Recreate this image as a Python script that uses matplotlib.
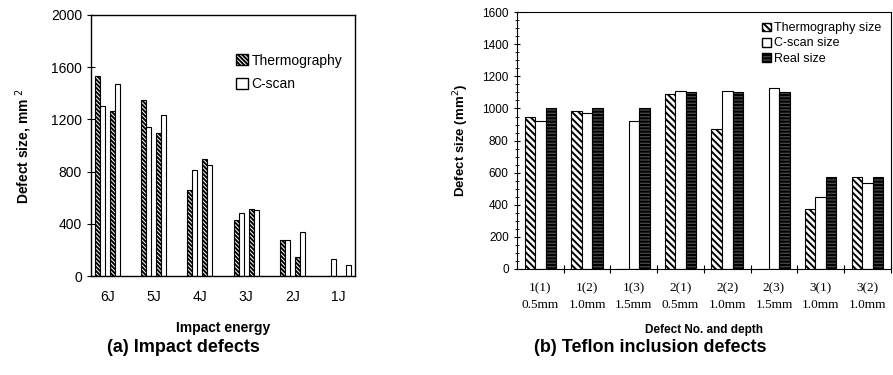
import numpy as np
import matplotlib.pyplot as plt
from matplotlib.patches import Patch
from matplotlib.ticker import MultipleLocator

plt.rcParams['font.family'] = ['Liberation Sans', 'DejaVu Sans']
plt.rcParams['hatch.linewidth'] = 1.4

# (a) impact defects, two specimens per energy level
energies = ['6J', '5J', '4J', '3J', '2J', '1J']
thermo_1 = [1535, 1350, 660, 430, 275, 0]
cscan_1 = [1305, 1145, 810, 480, 275, 133]
thermo_2 = [1265, 1095, 895, 512, 143, 0]
cscan_2 = [1470, 1230, 852, 505, 335, 87]

# (b) teflon inclusion defects
defects = ['1(1)\n0.5mm', '1(2)\n1.0mm', '1(3)\n1.5mm', '2(1)\n0.5mm',
           '2(2)\n1.0mm', '2(3)\n1.5mm', '3(1)\n1.0mm', '3(2)\n1.0mm']
thermo_size = [950, 985, 0, 1090, 870, 0, 375, 575]
cscan_size = [920, 970, 920, 1110, 1110, 1130, 445, 535]
real_size = [1000, 1000, 1000, 1100, 1100, 1100, 570, 570]

dense = '\\' * 8

fig = plt.figure(figsize=(8.93, 3.75), dpi=100)

# ---- left panel
ax = fig.add_axes([0.102, 0.264, 0.2955, 0.696])
x = np.arange(len(energies))
w = 0.108
ax.bar(x - 2 * w, thermo_1, w, facecolor='white', edgecolor='black', hatch=dense, lw=0.8)
ax.bar(x - w, cscan_1, w, facecolor='white', edgecolor='black', lw=0.8)
ax.bar(x + w, thermo_2, w, facecolor='white', edgecolor='black', hatch=dense, lw=0.8)
ax.bar(x + 2 * w, cscan_2, w, facecolor='white', edgecolor='black', lw=0.8)
ax.set_xlim(-0.357, 5.357)
ax.set_ylim(0, 2000)
ax.set_yticks(np.arange(0, 2001, 400))
ax.set_xticks(x)
ax.set_xticklabels(energies, fontsize=10)
ax.tick_params(axis='x', length=0, pad=10)
ax.tick_params(axis='y', labelsize=10, direction='inout', length=6)
ax.set_xlabel('Impact energy', fontsize=10, fontweight='bold', labelpad=12)
ax.set_ylabel('Defect size, mm $^2$', fontsize=10, fontweight='bold', labelpad=12)
for s in ax.spines.values():
    s.set_linewidth(1.0)
handles = [Patch(facecolor='white', edgecolor='black', hatch=dense),
           Patch(facecolor='white', edgecolor='black')]
ax.legend(handles, ['Thermography', 'C-scan'], loc='upper right', bbox_to_anchor=(1.0, 0.9),
          frameon=False, fontsize=10, handlelength=0.8, handleheight=0.8, handletextpad=0.3,
          labelspacing=0.7)
fig.text(0.205, 0.06, '(a) Impact defects', fontsize=13, fontweight='bold', ha='center')

# ---- right panel
ax2 = fig.add_axes([0.579, 0.2835, 0.4185, 0.6835])
x2 = np.arange(len(defects))
w2 = 0.225
ax2.bar(x2 - w2, thermo_size, w2, facecolor='white', edgecolor='black', hatch='\\\\\\\\\\', lw=0.8)
ax2.bar(x2, cscan_size, w2, facecolor='white', edgecolor='black', lw=0.8)
ax2.bar(x2 + w2, real_size, w2, facecolor='#444444', edgecolor='black', hatch='-----', lw=0.8)
ax2.set_xlim(-0.5, 7.5)
ax2.set_ylim(0, 1600)
ax2.set_yticks(np.arange(0, 1601, 200))
ax2.yaxis.set_minor_locator(MultipleLocator(50))
ax2.set_xticks(x2 + 0.5, minor=False)
ax2.set_xticklabels([])
ax2.set_xticks(x2, minor=True)
ax2.set_xticklabels(defects, minor=True, fontsize=9.5, family=['Liberation Serif'], linespacing=1.5)
ax2.tick_params(axis='x', which='major', direction='inout', length=6)
ax2.tick_params(axis='x', which='minor', length=0, pad=10)
ax2.tick_params(axis='y', which='major', labelsize=8.5, direction='inout', length=5)
ax2.tick_params(axis='y', which='minor', direction='inout', length=3)
ax2.set_xlabel('Defect No. and depth', fontsize=8.5, fontweight='bold', labelpad=9)
ax2.set_ylabel('Defect size (mm$^2$)', fontsize=9.5, fontweight='bold', labelpad=8)
handles2 = [Patch(facecolor='white', edgecolor='black', hatch='\\\\\\\\\\'),
            Patch(facecolor='white', edgecolor='black'),
            Patch(facecolor='#444444', edgecolor='black', hatch='-----')]
ax2.legend(handles2, ['Thermography size', 'C-scan size', 'Real size'], loc='upper right',
           frameon=False, fontsize=9, handlelength=0.7, handleheight=0.7, handletextpad=0.2,
           labelspacing=0.25, borderaxespad=0.4)
fig.text(0.728, 0.06, '(b) Teflon inclusion defects', fontsize=13, fontweight='bold', ha='center')

fig.savefig('out.png', dpi=100)
